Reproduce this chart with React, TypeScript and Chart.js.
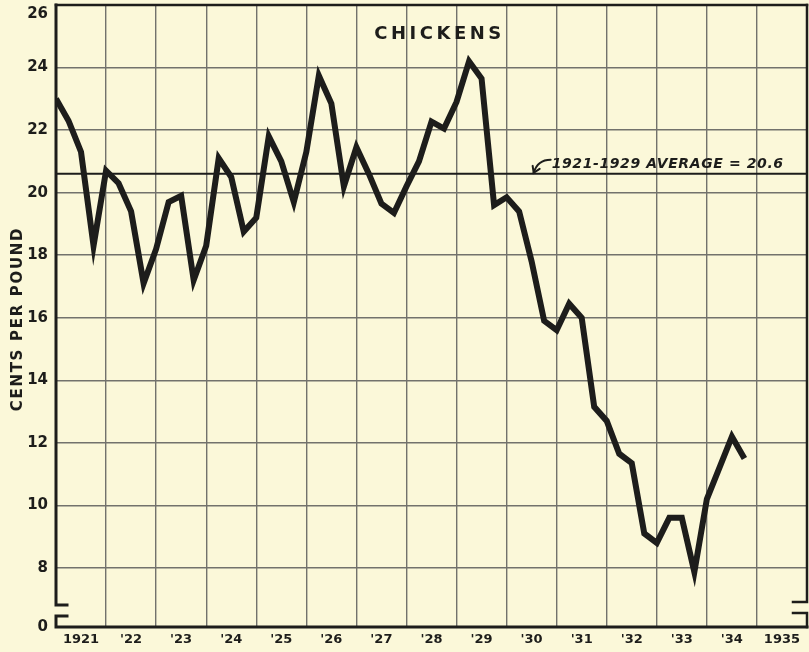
import { useEffect, useRef } from 'react';
import { Chart, registerables } from 'chart.js';

Chart.register(...registerables);

// ---- data ----
const startYear = 1921;
const quarterStep = 0.25; // quarterly observations
const prices = [
  23.0, 22.3, 21.3, 18.3, 20.7, 20.3, 19.4, 17.1,
  18.2, 19.7, 19.9, 17.2, 18.3, 21.1, 20.5, 18.75,
  19.2, 21.8, 21.0, 19.7, 21.3, 23.74, 22.85, 20.2,
  21.45, 20.6, 19.65, 19.35, 20.2, 21.0, 22.27, 22.05,
  22.9, 24.2, 23.65, 19.6, 19.85, 19.4, 17.8, 15.9,
  15.6, 16.45, 16.0, 13.15, 12.7, 11.65, 11.35, 9.1,
  8.8, 9.6, 9.6, 7.87, 10.2, 11.2, 12.2, 11.5,
];
const yearTicks = [1921, 1922, 1923, 1924, 1925, 1926, 1927, 1928, 1929, 1930, 1931, 1932, 1933, 1934, 1935, 1936];
const yearLabels = ['1921', "'22", "'23", "'24", "'25", "'26", "'27", "'28", "'29", "'30", "'31", "'32", "'33", "'34", '1935', ''];
const yTickValues = [8, 10, 12, 14, 16, 18, 20, 22, 24, 26];
const brokenZeroValue = 6.11; // where "0" sits on the broken axis
const yMax = 26;
const average = 20.6;
const averageLabel = '1921-1929 AVERAGE = 20.6';
const chartTitle = 'CHICKENS';
const yTitle = 'CENTS PER POUND';

const INK = '#1d1d1b';
const GRID = '#72726c';
const BG = '#fbf8d9';
const TICK_FONT = 'bold 15px "DejaVu Sans"';

const decorPlugin = {
  id: 'decor',
  beforeDraw(chart: any) {
    const ctx = chart.ctx;
    ctx.save();
    ctx.fillStyle = BG;
    ctx.fillRect(0, 0, chart.width, chart.height);
    ctx.restore();
  },
  afterDraw(chart: any) {
    const { ctx, chartArea } = chart;
    const { left, right, top, bottom } = chartArea;
    const xs = chart.scales.x;
    const ys = chart.scales.y;
    ctx.save();
    ctx.strokeStyle = INK;
    ctx.lineCap = 'square';
    ctx.lineJoin = 'miter';
    // top frame
    ctx.lineWidth = 2.5;
    ctx.beginPath();
    ctx.moveTo(left, top);
    ctx.lineTo(right, top);
    ctx.stroke();
    // left axis with break + bottom axis
    ctx.lineWidth = 3;
    ctx.beginPath();
    ctx.moveTo(left, top);
    ctx.lineTo(left, bottom - 22);
    ctx.lineTo(left + 11, bottom - 22);
    ctx.moveTo(left + 11, bottom - 11);
    ctx.lineTo(left, bottom - 11);
    ctx.lineTo(left, bottom);
    ctx.lineTo(right, bottom);
    ctx.stroke();
    // right axis with break
    ctx.lineWidth = 2.5;
    ctx.beginPath();
    ctx.moveTo(right, top);
    ctx.lineTo(right, bottom - 25);
    ctx.lineTo(right - 14, bottom - 25);
    ctx.moveTo(right - 14, bottom - 14);
    ctx.lineTo(right, bottom - 14);
    ctx.lineTo(right, bottom);
    ctx.stroke();

    ctx.fillStyle = INK;

    // top tick label (drawn just inside the frame, as in the original)
    ctx.font = TICK_FONT;
    ctx.textAlign = 'right';
    ctx.textBaseline = 'middle';
    ctx.fillText(String(yMax), left - 8, top + 9);

    // y title
    ctx.save();
    ctx.translate(18, (top + bottom) / 2 + 3);
    ctx.rotate(-Math.PI / 2);
    ctx.font = 'bold 15px "DejaVu Sans"';
    (ctx as any).letterSpacing = '1.7px';
    ctx.textAlign = 'center';
    ctx.textBaseline = 'middle';
    ctx.fillText(yTitle, 0, 0);
    ctx.restore();

    // title
    ctx.font = 'bold 18px "DejaVu Sans"';
    (ctx as any).letterSpacing = '3.5px';
    ctx.textAlign = 'center';
    ctx.textBaseline = 'middle';
    ctx.fillText(chartTitle, xs.getPixelForValue(1928.66), ys.getPixelForValue(25.05));

    // average annotation
    (ctx as any).letterSpacing = '0.6px';
    ctx.font = 'italic bold 14px "DejaVu Sans"';
    ctx.textAlign = 'left';
    ctx.textBaseline = 'alphabetic';
    const tx = xs.getPixelForValue(1930.9);
    const lineY = ys.getPixelForValue(average);
    const ty = lineY - 6;
    ctx.fillText(averageLabel, tx, ty);
    // curved arrow
    (ctx as any).letterSpacing = '0px';
    ctx.lineWidth = 2;
    ctx.lineCap = 'round';
    const tipX = tx - 18;
    const tipY = lineY - 1;
    ctx.beginPath();
    ctx.moveTo(tx - 1, ty - 8);
    ctx.quadraticCurveTo(tx - 14, ty - 8, tipX, tipY);
    ctx.stroke();
    ctx.beginPath();
    ctx.moveTo(tipX - 1, tipY - 7);
    ctx.lineTo(tipX, tipY);
    ctx.lineTo(tipX + 6, tipY - 4);
    ctx.stroke();
    ctx.restore();
  },
};

export default function App() {
  const ref = useRef<HTMLCanvasElement>(null);
  useEffect(() => {
    document.body.style.margin = '0';
    if (!ref.current) return;
    const chart = new Chart(ref.current, {
      type: 'line',
      data: {
        datasets: [
          {
            data: prices.map((v, i) => ({ x: startYear + i * quarterStep, y: v })),
            borderColor: INK,
            borderWidth: 6,
            pointRadius: 0,
            tension: 0,
            borderJoinStyle: 'miter',
            borderCapStyle: 'butt',
          },
          {
            data: [
              { x: yearTicks[0], y: average },
              { x: yearTicks[yearTicks.length - 1], y: average },
            ],
            borderColor: INK,
            borderWidth: 2,
            pointRadius: 0,
          },
        ],
      },
      options: {
        animation: false,
        responsive: false,
        maintainAspectRatio: false,
        layout: { padding: { left: 0, right: 2, top: 5, bottom: 0 } },
        plugins: { legend: { display: false }, tooltip: { enabled: false }, title: { display: false } },
        scales: {
          x: {
            type: 'linear',
            min: yearTicks[0],
            max: yearTicks[yearTicks.length - 1],
            afterBuildTicks: (s: any) => {
              s.ticks = yearTicks.map((v) => ({ value: v }));
            },
            afterFit: (s: any) => {
              s.height = 25;
              s.paddingLeft = 0;
              s.paddingRight = 0;
            },
            ticks: {
              callback: (_v: any, i: number) => yearLabels[i],
              labelOffset: 25,
              maxRotation: 0,
              autoSkip: false,
              padding: 5,
              color: INK,
              font: { family: '"DejaVu Sans"', size: 13, weight: 'bold' },
            },
            grid: {
              color: (c: any) =>
                c.tick && (c.tick.value === yearTicks[0] || c.tick.value === yearTicks[yearTicks.length - 1])
                  ? 'rgba(0,0,0,0)'
                  : GRID,
              lineWidth: 1.4,
              drawTicks: false,
            },
            border: { display: false },
          },
          y: {
            type: 'linear',
            min: brokenZeroValue,
            max: yMax,
            afterBuildTicks: (s: any) => {
              s.ticks = [brokenZeroValue, ...yTickValues].map((v) => ({ value: v }));
            },
            afterFit: (s: any) => {
              s.width = 56;
              s.paddingTop = 0;
              s.paddingBottom = 0;
            },
            ticks: {
              callback: (v: any) => (v < yTickValues[0] ? '0' : v === yMax ? '' : String(v)),
              padding: 8,
              color: INK,
              font: { family: '"DejaVu Sans"', size: 15, weight: 'bold' },
            },
            grid: {
              color: (c: any) =>
                c.tick && (c.tick.value === brokenZeroValue || c.tick.value === yMax) ? 'rgba(0,0,0,0)' : GRID,
              lineWidth: 1.4,
              drawTicks: false,
            },
            border: { display: false },
          },
        },
      },
      plugins: [decorPlugin],
    });
    return () => chart.destroy();
  }, []);
  return (
    <div style={{ width: 809, height: 652, background: BG }}>
      <canvas ref={ref} width={809} height={652} style={{ display: 'block' }} />
    </div>
  );
}
